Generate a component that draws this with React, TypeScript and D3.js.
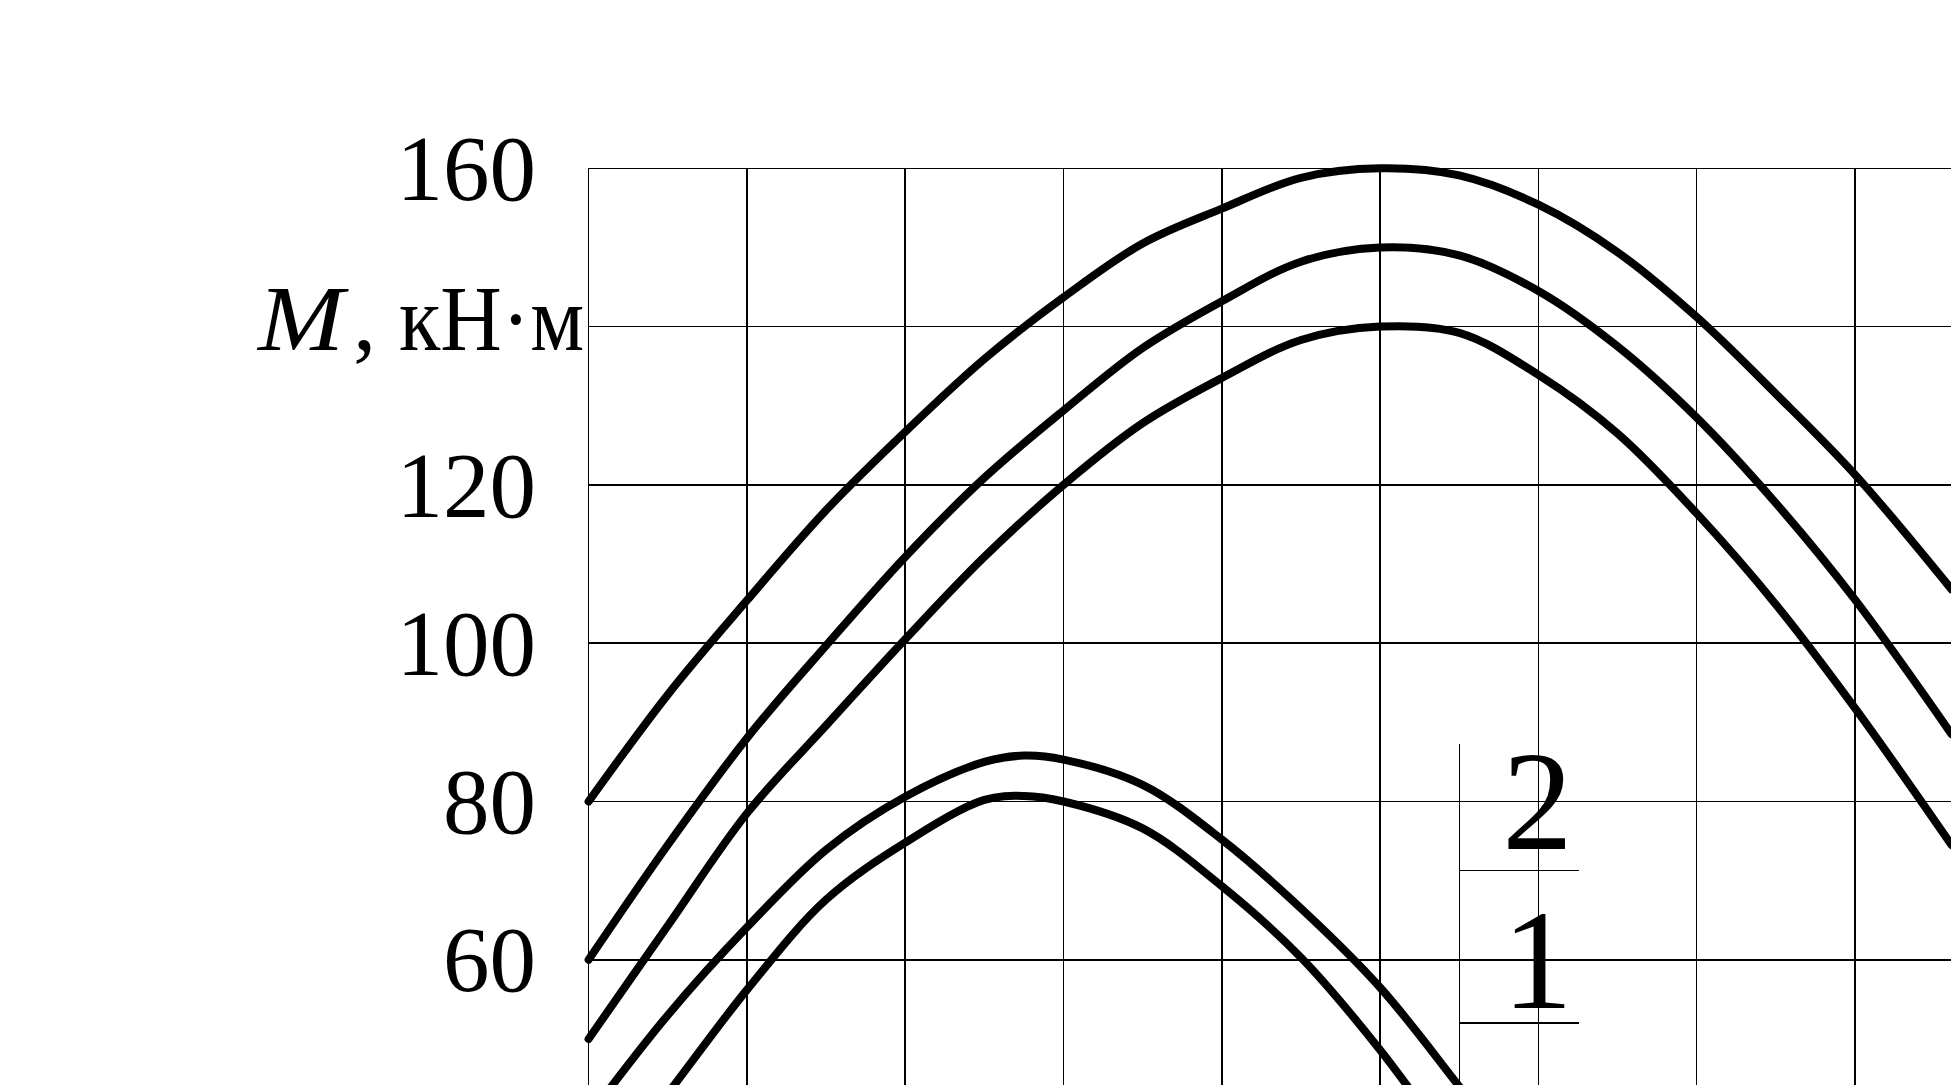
import React from "react";
import * as d3 from "d3";

// ---- data (x in grid units, M in kN·m) ----
const xSteps = [0, 0.5, 1, 1.5, 2, 2.5, 3, 3.5, 4, 4.5, 5, 5.5, 6, 6.5, 7, 7.5, 8, 8.61];
const curveTop = [80, 93.5, 105.4, 116.8, 126.7, 135.9, 143.7, 150.5, 154.9, 158.8, 160, 159.1, 155.4, 149.4, 141.2, 131.5, 121.3, 106.8];
const curveMid = [60, 74.5, 88, 99.7, 110.9, 120.9, 129.4, 137.3, 143.2, 148.2, 150, 149, 144.5, 137.5, 128.5, 117.7, 105.5, 88.5];
const curveLow = [50, 64.3, 78.5, 89.6, 100.5, 110.9, 120, 127.8, 133.5, 138.3, 140, 139.2, 133.9, 126.5, 116.4, 104.9, 91.8, 74.5];

const xHump = [0, 0.5, 1, 1.5, 2, 2.5, 2.75, 3, 3.5, 4, 4.5, 5, 5.5, 6];
const humpUpper = [40.2, 53, 64.1, 73.9, 80.6, 85, 85.8, 85.3, 82.1, 75.2, 66.5, 56.5, 44, 31];
const humpLower = [30.3, 43.1, 56.2, 67.6, 74.8, 80.2, 80.7, 80, 76.6, 69.3, 60.3, 48.6, 35, 21];

const gridXValues = [0, 1, 2, 3, 4, 5, 6, 7, 8];
const gridYValues = [160, 140, 120, 100, 80, 60, 40];
const tickValues = [160, 120, 100, 80, 60];
const tickLabels = ["160", "120", "100", "80", "60"];
const axisTitleValue = 140;

// annotation (curve numbers with leader lines)
const noteLabels = ["2", "1"];
const noteLabelY = [74.0, 53.9];
const noteLineY = [71.3, 52.0];
const noteX = 5.5;
const noteXEnd = 6.256;
const noteLabelX = 5.995;
const noteTop = 87.3;

const W = 1951;
const H = 1085;
const X0 = 588.6;
const STEP = 158.3;
const Y160 = 168.3;

const FONT = "'Liberation Serif', 'Times New Roman', 'DejaVu Serif', serif";

export default function App() {
  const x = d3.scaleLinear().domain([0, 1]).range([X0, X0 + STEP]);
  const y = d3.scaleLinear().domain([160, 140]).range([Y160, Y160 + STEP]);

  const line = d3
    .line<[number, number]>()
    .x((d) => x(d[0]))
    .y((d) => y(d[1]))
    .curve(d3.curveCatmullRom.alpha(0.5));

  const series = [
    xSteps.map((u, i) => [u, curveTop[i]] as [number, number]),
    xSteps.map((u, i) => [u, curveMid[i]] as [number, number]),
    xSteps.map((u, i) => [u, curveLow[i]] as [number, number]),
    xHump.map((u, i) => [u, humpUpper[i]] as [number, number]),
    xHump.map((u, i) => [u, humpLower[i]] as [number, number]),
  ];

  const plotTop = y(160);
  const plotLeft = x(0);
  const titleY = y(axisTitleValue) + 23;

  return (
    <svg
      width={W}
      height={H}
      viewBox={`0 0 ${W} ${H}`}
      style={{ position: "absolute", left: 0, top: 0, background: "#fff", display: "block" }}
    >
      <defs>
        <clipPath id="plotClip">
          <rect x={plotLeft - 6} y={plotTop - 10} width={W - plotLeft + 6} height={H - plotTop + 10} />
        </clipPath>
      </defs>
      <rect x={0} y={0} width={W} height={H} fill="#fff" />

      {/* grid */}
      <g stroke="#000" strokeWidth={1.5} shapeRendering="crispEdges">
        {gridXValues.map((g) => (
          <line key={"gx" + g} x1={x(g)} x2={x(g)} y1={plotTop} y2={H} />
        ))}
        {gridYValues.map((g) => (
          <line key={"gy" + g} x1={plotLeft} x2={W} y1={y(g)} y2={y(g)} />
        ))}
      </g>

      {/* tick labels */}
      <g fontFamily={FONT} fontSize={93} fill="#000" textAnchor="end">
        {tickValues.map((v, i) => (
          <text key={"t" + v} x={536} y={y(v)} dy="0.34em">
            {tickLabels[i]}
          </text>
        ))}
      </g>

      {/* axis title: M, кН·м */}
      <g fontFamily={FONT} fontSize={93} fill="#000">
        <text x={258} y={titleY} fontStyle="italic" textLength={86} lengthAdjust="spacingAndGlyphs">
          M
        </text>
        <text x={353} y={titleY}>,</text>
        <text x={399} y={titleY} textLength={185} lengthAdjust="spacingAndGlyphs">кН·м</text>
      </g>

      {/* curves */}
      <g clipPath="url(#plotClip)" fill="none" stroke="#000" strokeWidth={8} strokeLinecap="round" strokeLinejoin="round">
        {series.map((s, i) => (
          <path key={"c" + i} d={line(s) || ""} />
        ))}
      </g>

      {/* curve number annotation */}
      <g stroke="#000" strokeWidth={1.5} shapeRendering="crispEdges">
        <line x1={x(noteX)} x2={x(noteX)} y1={y(noteTop)} y2={H} />
        {noteLineY.map((v, i) => (
          <line key={"nl" + i} x1={x(noteX)} x2={x(noteXEnd)} y1={y(v)} y2={y(v)} />
        ))}
      </g>
      <g fontFamily={FONT} fontSize={141} fill="#000" textAnchor="middle">
        {noteLabels.map((t, i) => (
          <text key={"n" + t} x={x(noteLabelX)} y={y(noteLabelY[i])}>
            {t}
          </text>
        ))}
      </g>
    </svg>
  );
}
